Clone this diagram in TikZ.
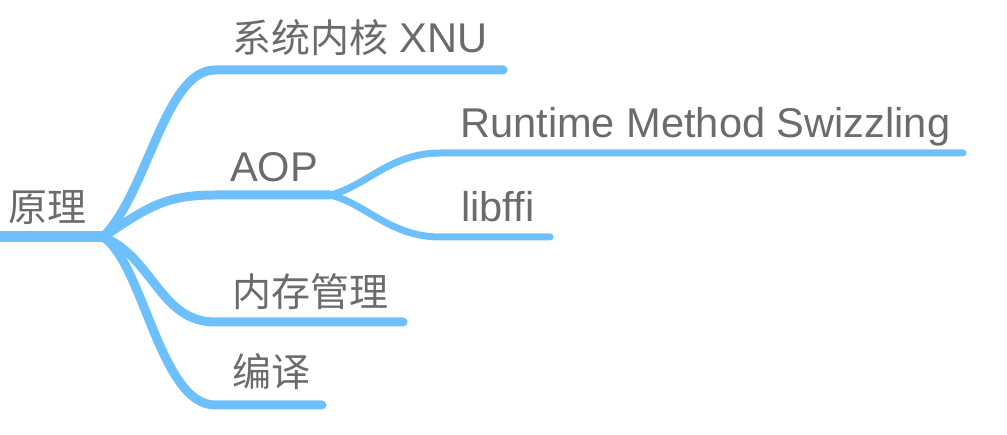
\documentclass[tikz,border=0pt]{standalone}
\usepackage{fontspec}
\setmainfont{Liberation Sans}
\newfontfamily\cjk{Noto Sans CJK SC}
\definecolor{branch}{RGB}{110,192,252}
\definecolor{txt}{RGB}{107,107,107}
\begin{document}
\begin{tikzpicture}[x=1pt,y=-1pt,line cap=round,
  br/.style={draw=branch,line width=9pt},
  sub/.style={draw=branch,line width=7pt},
  lbl/.style={anchor=base west,inner sep=0pt,text=txt,font=\fontsize{41.6}{48}\selectfont},
  clbl/.style={lbl,font=\fontsize{39}{48}\selectfont\cjk}]
\useasboundingbox (0,0) rectangle (1007,435);
\clip (0,0) rectangle (1007,435);
% anchor coordinates
\coordinate (rootL) at (-5,237);
\coordinate (hub) at (103,237);
\coordinate (k1) at (215,70);   \coordinate (k1e) at (503,70);
\coordinate (a1) at (215,195);  \coordinate (aop) at (330,195);
\coordinate (m1) at (215,322);  \coordinate (m1e) at (403,322);
\coordinate (c1) at (215,405);  \coordinate (c1e) at (322,405);
\coordinate (r1) at (440,153);  \coordinate (r1e) at (963,153);
\coordinate (l1) at (440,237);  \coordinate (l1e) at (550,237);
% branches
\draw[draw=branch,line width=11pt,line cap=butt] (rootL) -- (hub);
\draw[br] (hub) .. controls +(45,-45) and +(-50,0) .. (k1) -- (k1e);
\draw[br] (hub) .. controls +(45,-30) and +(-50,0) .. (a1) -- (aop);
\draw[br] (hub) .. controls +(50,20) and +(-55,0) .. (m1) -- (m1e);
\draw[br] (hub) .. controls +(40,25) and +(-55,0) .. (c1) -- (c1e);
\draw[sub] (aop) .. controls +(35,-8) and +(-50,0) .. (r1) -- (r1e);
\draw[sub] (aop) .. controls +(35,8) and +(-50,0) .. (l1) -- (l1e);
% labels
\node[clbl] (root) at (8,222) {原理};
\node[lbl] (kern) at (232,53) {{\fontsize{39}{48}\selectfont\cjk 系统内核} XNU};
\node[lbl] (aopt) at (230,182) {AOP};
\node[lbl] (rt) at (460,138) {Runtime Method Swizzling};
\node[lbl] (ffi) at (461,222) {libffi};
\node[clbl] (mem) at (232,307) {内存管理};
\node[clbl] (comp) at (232,387) {编译};
\end{tikzpicture}
\end{document}
